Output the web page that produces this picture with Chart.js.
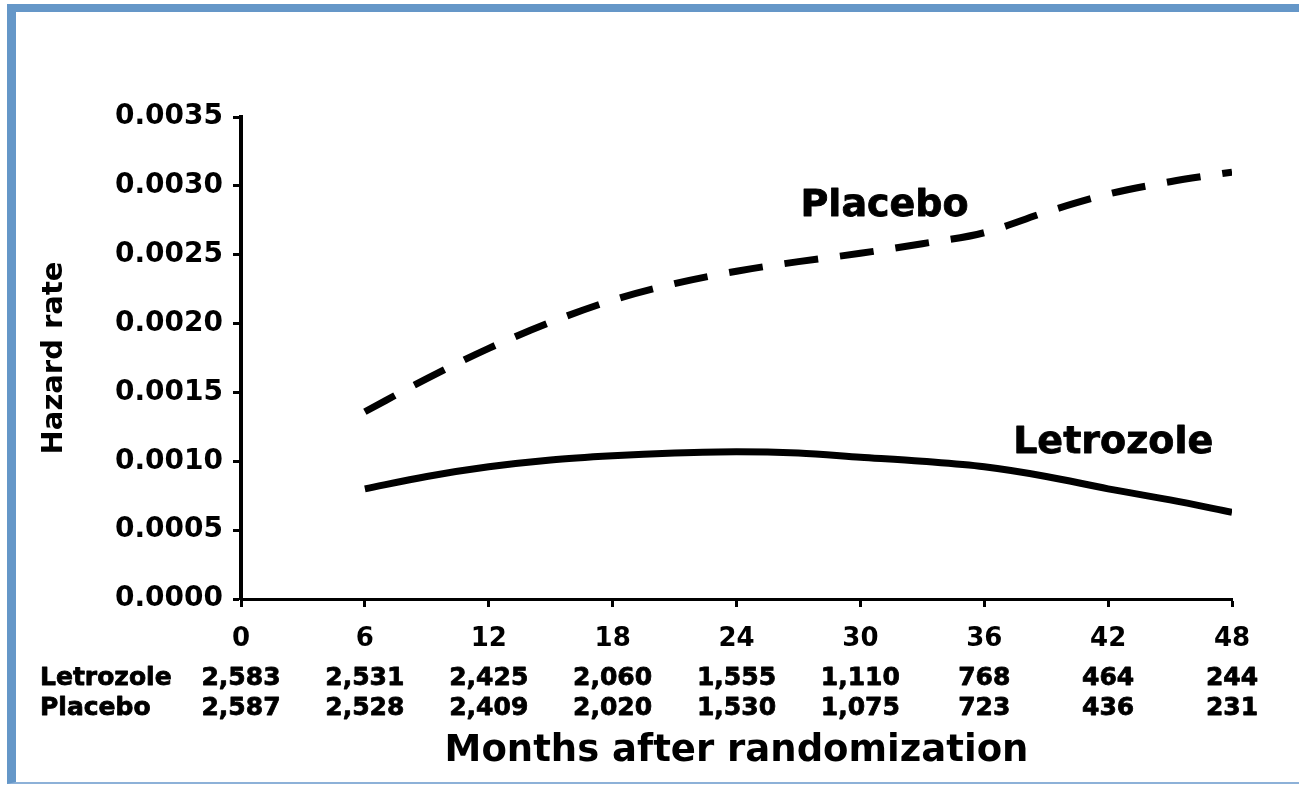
<!DOCTYPE html>
<html>
<head>
<meta charset="utf-8">
<title>Hazard rate</title>
<script src="https://cdn.jsdelivr.net/npm/chart.js@4.4.1/dist/chart.umd.min.js"></script>
<style>
body{margin:0;background:#fff;overflow:hidden}
#frame{position:absolute;left:7px;top:4px;width:1300px;height:770px;border-left:9px solid #6597c8;border-top:8px solid #6597c8;border-bottom:2px solid #8db1d8;box-sizing:content-box}
#hazard{position:absolute;left:0;top:0}
</style>
</head>
<body>
<div id="frame"></div>
<canvas id="hazard" width="1299" height="785"></canvas>
<script>
// months shown in the at-risk table
const tableMonths=[0,6,12,18,24,30,36,42,48]
const letrozoleAtRisk=[2583,2531,2425,2060,1555,1110,768,464,244]
const placeboAtRisk=[2587,2528,2409,2020,1530,1075,723,436,231]

// smoothed hazard curves, every 3 months
const curveMonths=[6,9,12,15,18,21,24,27,30,33,36,39,42,45,48]
const placeboHazard=[0.00136,0.00160,0.00182,0.00201,0.00217,0.00229,0.00238,0.00245,0.00251,0.00258,0.00266,0.00281,0.00294,0.00303,0.00310]
const letrozoleHazard=[0.00080,0.00089,0.00096,0.00101,0.00104,0.00106,0.00107,0.00106,0.00103,0.00100,0.00096,0.00089,0.00080,0.00072,0.00063]

const FONT="'DejaVu Sans', sans-serif"

function toPoints(xs,ys){
return xs.map((m,i)=>({x:m,y:ys[i]}))
}

// heavy text: fill plus a thin outline
function boldText(ctx,text,x,y){
ctx.fillText(text,x,y)
ctx.strokeText(text,x,y)
}

// curve names next to the lines + numbers at risk under the axis
const annotations={
id:"annotations",
afterDraw(chart){
const ctx=chart.ctx
const x=chart.scales.x
const y=chart.scales.y
ctx.save()
ctx.fillStyle="#000"
ctx.strokeStyle="#000"
ctx.lineWidth=0.8
ctx.lineJoin="round"

ctx.font="bold 38px "+FONT
ctx.textAlign="left"
ctx.textBaseline="middle"
boldText(ctx,"Placebo",x.getPixelForValue(27.1),y.getPixelForValue(0.00285))
boldText(ctx,"Letrozole",x.getPixelForValue(37.4),y.getPixelForValue(0.00113))

const row1=x.top+79
const row2=x.top+109
ctx.font="bold 25px "+FONT
boldText(ctx,"Letrozole",40,row1)
boldText(ctx,"Placebo",40,row2)

ctx.textAlign="center"
tableMonths.forEach((m,i)=>{
let px=x.getPixelForValue(m)
boldText(ctx,letrozoleAtRisk[i].toLocaleString("en-US"),px,row1)
boldText(ctx,placeboAtRisk[i].toLocaleString("en-US"),px,row2)
})
ctx.restore()
}
}

new Chart(
document.getElementById("hazard"),
{
type:"line",
data:{
datasets:[
{
label:"Placebo",
data:toPoints(curveMonths,placeboHazard),
borderColor:"#000",
borderWidth:7,
borderDash:[34,22],
pointRadius:0,
cubicInterpolationMode:"monotone"
},
{
label:"Letrozole",
data:toPoints(curveMonths,letrozoleHazard),
borderColor:"#000",
borderWidth:7,
pointRadius:0,
cubicInterpolationMode:"monotone"
}
]
},
options:{
responsive:false,
animation:false,
devicePixelRatio:1,
layout:{padding:{top:117,right:67,left:0,bottom:0}},
plugins:{legend:{display:false},tooltip:{enabled:false}},
scales:{
x:{
type:"linear",
min:0,
max:48,
border:{color:"#000",width:3},
grid:{drawOnChartArea:false,color:"#000",tickLength:8,tickWidth:3},
ticks:{stepSize:6,padding:17,color:"#000",maxRotation:0,font:{family:FONT,size:26,weight:"bold"}},
title:{display:true,text:"Months after randomization",color:"#000",font:{family:FONT,size:37,weight:"bold"},padding:{top:0,bottom:11}},
afterFit(scale){scale.height=186}
},
y:{
min:0,
max:0.0035,
border:{color:"#000",width:4},
grid:{drawOnChartArea:false,color:"#000",tickLength:8,tickWidth:3},
ticks:{stepSize:0.0005,padding:10,color:"#000",font:{family:FONT,size:28,weight:"bold"},callback:v=>v.toFixed(4)},
title:{display:true,text:"Hazard rate",color:"#000",font:{family:FONT,size:29,weight:"bold"},padding:{top:37,bottom:0}},
afterFit(scale){scale.width=241}
}
}
},
plugins:[annotations]
})
</script>
</body>
</html>
